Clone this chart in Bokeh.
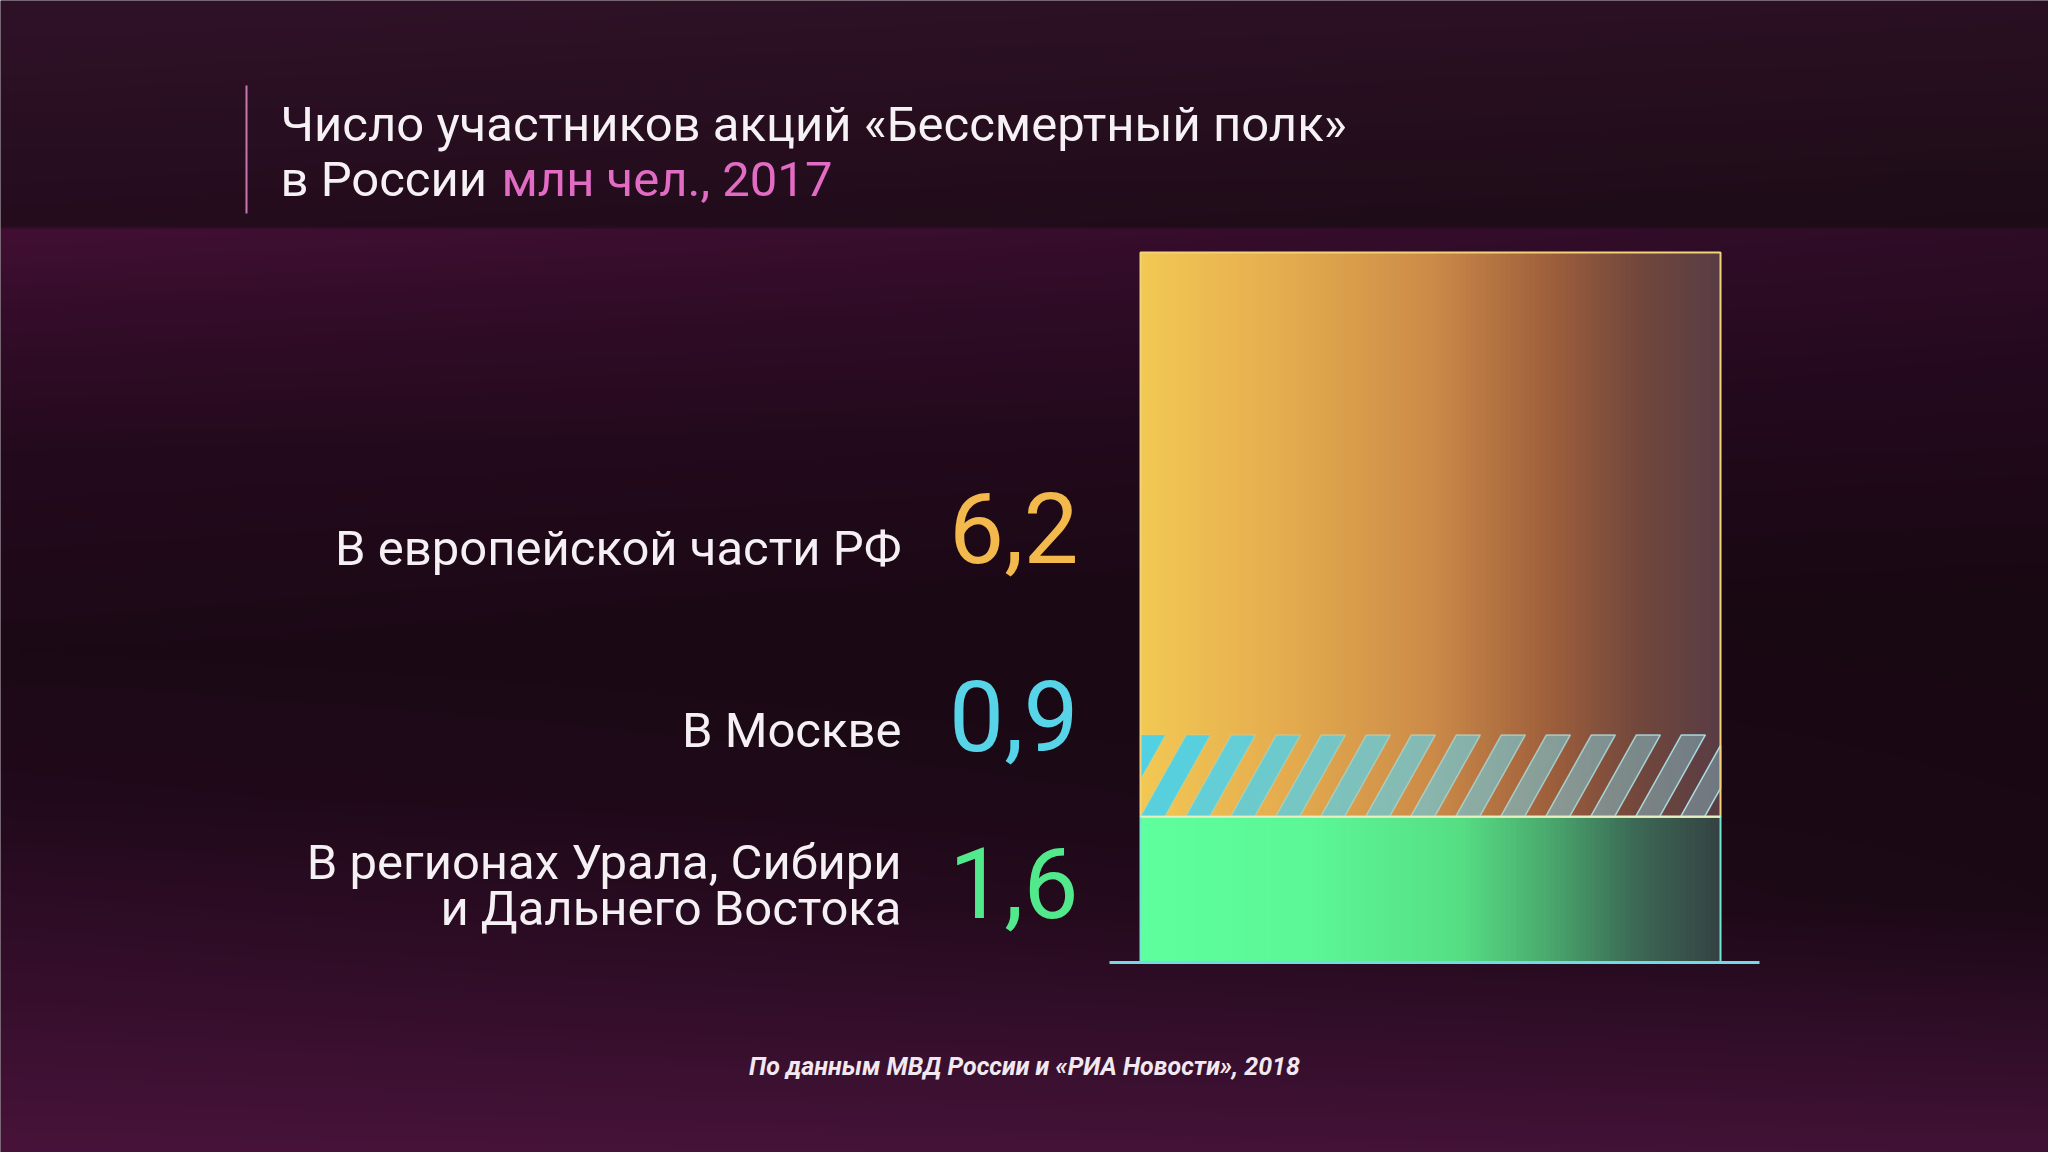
import numpy as np
from bokeh.plotting import figure
from bokeh.models import Range1d
from bokeh.core.properties import value
from bokeh.embed import file_html
from bokeh.resources import INLINE

# ---------------- data ----------------
title_line1 = "Число участников акций «Бессмертный полк»"
title_line2 = "в России"
title_unit = "млн чел., 2017"
source_text = "По данным МВД России и «РИА Новости», 2018"

# stack order: regions (bottom), European part (above); Moscow is part of the European part
seg_names = ["В регионах Урала, Сибири и Дальнего Востока", "В европейской части РФ", "В Москве"]
seg_label_lines = [["В регионах Урала, Сибири", "и Дальнего Востока"], ["В европейской части РФ"], ["В Москве"]]
seg_values = [1.6, 6.2, 0.9]
seg_value_text = ["1,6", "6,2", "0,9"]

# ---------------- layout ----------------
W, H = 2048, 1152
BASE_PX, TOP_PX = 962, 252          # page rows of the zero line and of the stack's top
BAR_L, BAR_R = 1140, 1720
FONT = "Roboto"

total = seg_values[0] + seg_values[1]
ppu = (BASE_PX - TOP_PX) / total


def ypx(py):
    return (BASE_PX - py) / ppu


y0, y1 = ypx(H), ypx(0)

p = figure(width=W, height=H, output_backend="svg", toolbar_location=None,
           x_range=Range1d(0, W), y_range=Range1d(y0, y1),
           min_border=0, outline_line_color=None,
           background_fill_color="#220a1c", border_fill_color="#220a1c")
p.axis.visible = False
p.grid.visible = False

# ---------------- background ----------------
def interp_stops(stops, t):
    ts = np.array([s[0] for s in stops], float)
    cs = np.array([s[1] for s in stops], float)
    return np.stack([np.interp(t, ts, cs[:, k]) for k in range(3)], axis=-1)

left_stops = [(0, (48, 18, 40)), (226, (36, 12, 29)), (229, (66, 15, 52)), (300, (54, 13, 43)),
              (450, (36, 10, 29)), (650, (28, 9, 22)), (800, (33, 10, 27)), (900, (45, 12, 37)),
              (1000, (55, 15, 45)), (1152, (72, 19, 58))]
right_stops = [(0, (42, 16, 34)), (226, (29, 12, 23)), (229, (46, 12, 38)), (350, (37, 10, 31)),
               (600, (24, 8, 18)), (900, (27, 9, 21)), (1000, (42, 12, 35)), (1152, (66, 18, 54))]

RH, RW = H // 2, W // 2
rows_py = H - (np.arange(RH) + 0.5) * 2     # row 0 is the bottom
cols_px = (np.arange(RW) + 0.5) * 2
lc = interp_stops(left_stops, rows_py)
rc = interp_stops(right_stops, rows_py)
fx = (cols_px / float(W))[None, :, None]
img = lc[:, None, :] * (1 - fx) + rc[:, None, :] * fx
img = np.clip(img, 0, 255).astype(np.uint32)
rgba = (255 << 24) | (img[:, :, 2] << 16) | (img[:, :, 1] << 8) | img[:, :, 0]
p.image_rgba(image=[rgba.astype(np.uint32)], x=0, y=y0, dw=W, dh=y1 - y0)

# ---------------- bars ----------------
def grad_colors(stops, n):
    t = (np.arange(n) + 0.5) / n
    c = interp_stops(stops, t)
    return ["#%02x%02x%02x" % tuple(int(round(v)) for v in row) for row in c]

orange_stops = [(0, (242, 200, 84)), (0.25, (228, 172, 78)), (0.5, (204, 139, 72)),
                (0.7, (160, 96, 60)), (0.85, (116, 72, 60)), (1.0, (88, 60, 68))]
green_stops = [(0, (94, 255, 158)), (0.3, (92, 246, 150)), (0.55, (86, 222, 132)),
               (0.7, (74, 170, 110)), (0.85, (60, 106, 86)), (1.0, (52, 66, 66))]

N = 116
edges = np.linspace(BAR_L, BAR_R, N + 1)
rights = np.minimum(edges[1:] + 2.0, BAR_R)   # slight overlap hides seams
bottoms = [0.0, seg_values[0]]
tops = [seg_values[0], seg_values[0] + seg_values[1]]
for i, stops in enumerate([green_stops, orange_stops]):
    p.quad(left=edges[:-1], right=rights, bottom=[bottoms[i]] * N, top=[tops[i]] * N,
           fill_color=grad_colors(stops, N), line_color=None)

# Moscow: hatched overlay on the base of the European part
m_bot = seg_values[0]
m_top = seg_values[0] + seg_values[2]
period, sw = 45.0, 24.0
h_px = (m_top - m_bot) * ppu
shift = 0.56 * h_px


def clip_x(poly, xmin, xmax):
    def clip(pts, keep, inter):
        out = []
        for j in range(len(pts)):
            a, b = pts[j], pts[(j + 1) % len(pts)]
            ka, kb = keep(a), keep(b)
            if ka:
                out.append(a)
            if ka != kb:
                out.append(inter(a, b))
        return out
    def ix(a, b, xv):
        t = (xv - a[0]) / (b[0] - a[0])
        return (xv, a[1] + t * (b[1] - a[1]))
    pts = clip(poly, lambda q: q[0] >= xmin, lambda a, b: ix(a, b, xmin))
    if not pts:
        return pts
    pts = clip(pts, lambda q: q[0] <= xmax, lambda a, b: ix(a, b, xmax))
    return pts

xs, ys, fills, falphas, lalphas = [], [], [], [], []
k = -3
while True:
    xb = BAR_L + k * period
    if xb > BAR_R:
        break
    poly = [(xb, m_bot), (xb + sw, m_bot), (xb + sw + shift, m_top), (xb + shift, m_top)]
    pts = clip_x(poly, BAR_L, BAR_R)
    k += 1
    if len(pts) < 3:
        continue
    cx = np.mean([q[0] for q in pts])
    t = (cx - BAR_L) / (BAR_R - BAR_L)
    c0, c1 = np.array([80, 210, 228]), np.array([140, 190, 200])
    c = c0 * (1 - t) + c1 * t
    xs.append([q[0] for q in pts])
    ys.append([q[1] for q in pts])
    fills.append("#%02x%02x%02x" % tuple(int(v) for v in c))
    falphas.append(1.0 - 0.55 * t)
    lalphas.append(0.15 + 0.75 * t)
p.patches(xs=xs, ys=ys, fill_color=fills, fill_alpha=falphas,
          line_color="#b4eef4", line_alpha=lalphas, line_width=1.5)

# outlines
p.quad(left=[BAR_L], right=[BAR_R], bottom=[tops[0]], top=[tops[1]],
       fill_color=None, line_color="#f4d27a", line_width=2)
p.quad(left=[BAR_L], right=[BAR_R], bottom=[0], top=[tops[0]],
       fill_color=None, line_color="#72e6d2", line_width=2)
p.segment(x0=[BAR_L], x1=[BAR_R], y0=[tops[0]], y1=[tops[0]],
          line_color="#e8efc0", line_width=2)
p.segment(x0=[1109], x1=[1759], y0=[0], y1=[0], line_color="#74d8e6", line_width=3)

# ---------------- texts ----------------
p.segment(x0=[246], x1=[246], y0=[ypx(85)], y1=[ypx(213)], line_color="#c877b0", line_width=2)
p.text(x=[280], y=[ypx(124)], text=[title_line1], text_font=value(FONT), text_font_size="49px",
       text_color="#f6f1f4", text_baseline="alphabetic", text_align="left")
p.text(x=[280], y=[ypx(179)], text=[title_line2], text_font=value(FONT), text_font_size="49px",
       text_color="#f6f1f4", text_baseline="alphabetic", text_align="left")
p.text(x=[501], y=[ypx(179)], text=[title_unit], text_font=value(FONT), text_font_size="49px",
       text_color="#e26bc4", text_baseline="alphabetic", text_align="left")

label_baselines = [[862, 908], [548], [730]]
value_baselines = [882, 527, 715]
value_colors = ["#52e98c", "#f3b94c", "#58d4e8"]
for i in range(3):
    for line, b in zip(seg_label_lines[i], label_baselines[i]):
        p.text(x=[901], y=[ypx(b)], text=[line], text_font=value(FONT), text_font_size="49px",
               text_color="#f4f0f3", text_align="right", text_baseline="alphabetic")
    p.text(x=[1078], y=[ypx(value_baselines[i])], text=[seg_value_text[i]], text_font=value(FONT),
           text_font_size="98px", text_color=value_colors[i], text_align="right",
           text_baseline="alphabetic")

p.text(x=[1024], y=[ypx(1066)], text=[source_text], text_font=value(FONT), text_font_size="25px",
       text_font_style="bold italic", text_color="#f2e8ef", text_align="center",
       text_baseline="alphabetic")

open("out.html", "w").write(file_html(p, INLINE))
